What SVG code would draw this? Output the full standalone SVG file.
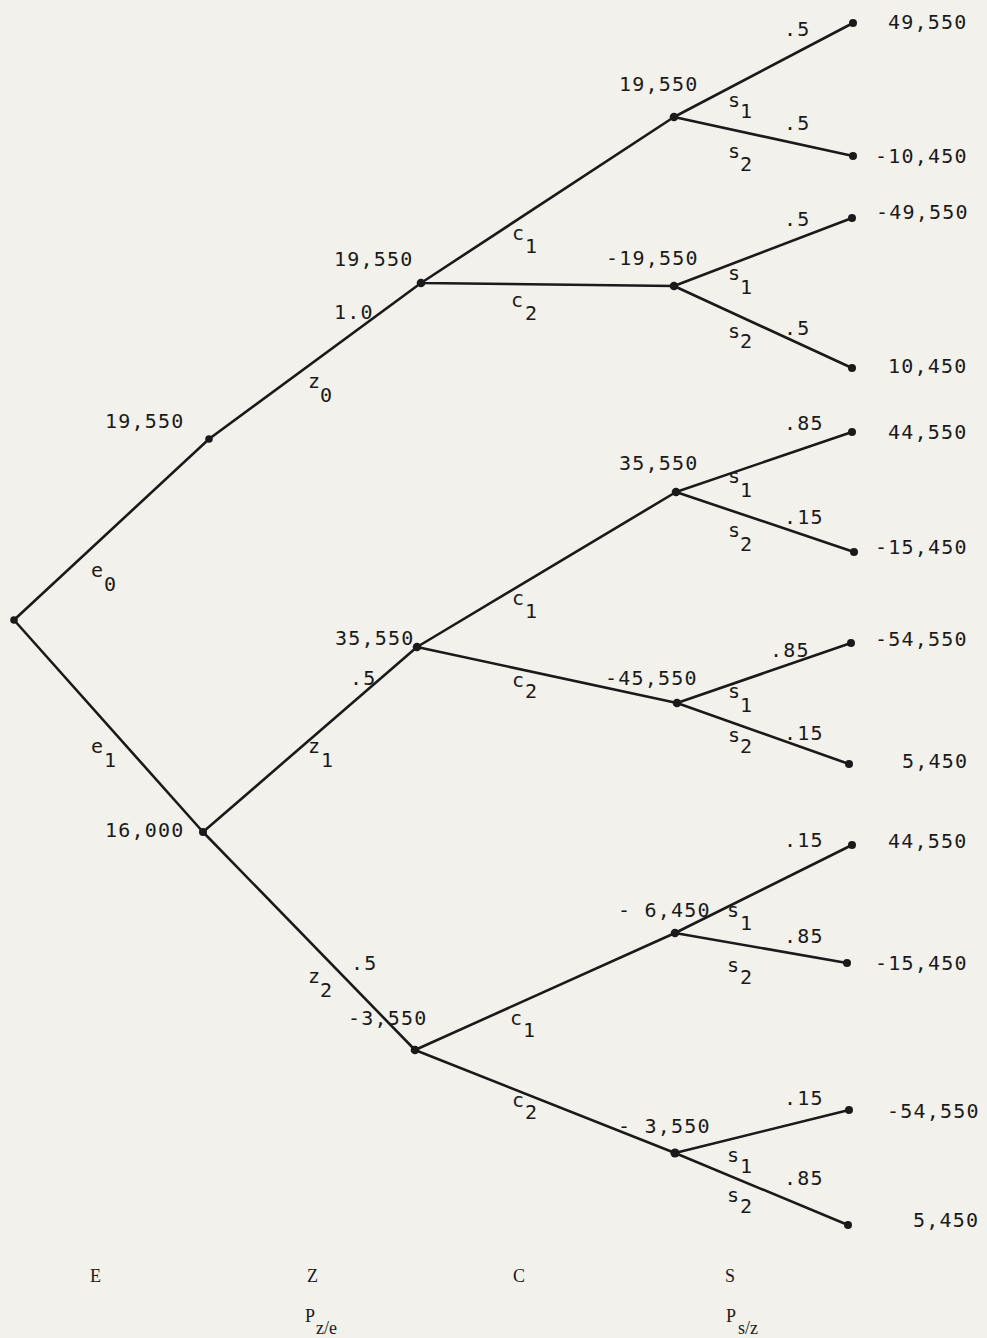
<svg xmlns="http://www.w3.org/2000/svg" width="987" height="1338" viewBox="0 0 987 1338">
<style>
.bg{fill:#f2f1ec}
.e{stroke:#1a1a1a;stroke-width:2.6;fill:none;stroke-linecap:round}
.n{fill:#1a1a1a}
.t{font-family:"DejaVu Sans Mono","Liberation Mono",monospace;font-size:20px;letter-spacing:1.2px;fill:#1a1a1a}
.s{font-family:"Liberation Serif","DejaVu Serif",serif;font-size:18px;fill:#1a1a1a}
</style>
<rect class="bg" x="0" y="0" width="987" height="1338"/>
<g id="connectors">
<path class="e" d="M14,620 L209,439 L421,283"/>
<path class="e" d="M14,620 L203,832"/>
<path class="e" d="M203,832 L417,647"/>
<path class="e" d="M203,832 L415,1050"/>
<path class="e" d="M421,283 L674,117 M421,283 L674,286"/>
<path class="e" d="M417,647 L676,492 M417,647 L677,703"/>
<path class="e" d="M415,1050 L675,933 M415,1050 L675,1153"/>
<path class="e" d="M674,117 L853,23 M674,117 L853,156"/>
<path class="e" d="M674,286 L852,218 M674,286 L852,368"/>
<path class="e" d="M676,492 L852,432 M676,492 L854,552"/>
<path class="e" d="M677,703 L851,643 M677,703 L849,764"/>
<path class="e" d="M675,933 L852,845 M675,933 L847,963"/>
<path class="e" d="M675,1153 L849,1110 M675,1153 L848,1225"/>
</g>
<g id="root"><circle class="n" cx="14" cy="620" r="3.8"/></g>
<g id="e0-node"><circle class="n" cx="209" cy="439" r="3.8"/><text class="t" x="105" y="428">19,550</text><text class="t"><tspan x="91" y="577">e</tspan><tspan x="104" y="591">0</tspan></text></g>
<g id="e1-node"><circle class="n" cx="203" cy="832" r="4"/><text class="t" x="105" y="837">16,000</text><text class="t"><tspan x="91" y="753">e</tspan><tspan x="104" y="767">1</tspan></text></g>
<g id="z0-node"><circle class="n" cx="421" cy="283" r="4.3"/><text class="t" x="334" y="266">19,550</text><text class="t" x="334" y="319">1.0</text><text class="t"><tspan x="308" y="388">z</tspan><tspan x="320" y="402">0</tspan></text><text class="t"><tspan x="512" y="240">c</tspan><tspan x="525" y="253">1</tspan></text><text class="t"><tspan x="511" y="307">c</tspan><tspan x="525" y="320">2</tspan></text></g>
<g id="z1-node"><circle class="n" cx="417" cy="647" r="4.3"/><text class="t" x="335" y="645">35,550</text><text class="t" x="350" y="685">.5</text><text class="t"><tspan x="308" y="753">z</tspan><tspan x="321" y="767">1</tspan></text><text class="t"><tspan x="512" y="605">c</tspan><tspan x="525" y="618">1</tspan></text><text class="t"><tspan x="512" y="687">c</tspan><tspan x="525" y="698">2</tspan></text></g>
<g id="z2-node"><circle class="n" cx="415" cy="1050" r="4.3"/><text class="t" x="348" y="1025">-3,550</text><text class="t" x="351" y="970">.5</text><text class="t"><tspan x="308" y="983">z</tspan><tspan x="320" y="997">2</tspan></text><text class="t"><tspan x="510" y="1025">c</tspan><tspan x="523" y="1037">1</tspan></text><text class="t"><tspan x="512" y="1107">c</tspan><tspan x="525" y="1119">2</tspan></text></g>
<g id="s-a"><circle class="n" cx="674" cy="117" r="4.3"/><text class="t" x="619" y="91">19,550</text><text class="t" x="784" y="36">.5</text><text class="t"><tspan x="728" y="107">s</tspan><tspan x="740" y="118">1</tspan></text><text class="t" x="784" y="130">.5</text><text class="t"><tspan x="728" y="158">s</tspan><tspan x="740" y="171">2</tspan></text></g>
<g id="s-b"><circle class="n" cx="674" cy="286" r="4.3"/><text class="t" x="606" y="265">-19,550</text><text class="t" x="784" y="226">.5</text><text class="t"><tspan x="728" y="280">s</tspan><tspan x="740" y="294">1</tspan></text><text class="t" x="784" y="335">.5</text><text class="t"><tspan x="728" y="338">s</tspan><tspan x="740" y="348">2</tspan></text></g>
<g id="s-c"><circle class="n" cx="676" cy="492" r="4.3"/><text class="t" x="619" y="470">35,550</text><text class="t" x="784" y="430">.85</text><text class="t"><tspan x="728" y="483">s</tspan><tspan x="740" y="497">1</tspan></text><text class="t" x="784" y="524">.15</text><text class="t"><tspan x="728" y="537">s</tspan><tspan x="740" y="551">2</tspan></text></g>
<g id="s-d"><circle class="n" cx="677" cy="703" r="4.3"/><text class="t" x="605" y="685">-45,550</text><text class="t" x="770" y="657">.85</text><text class="t"><tspan x="728" y="698">s</tspan><tspan x="740" y="712">1</tspan></text><text class="t" x="784" y="740">.15</text><text class="t"><tspan x="728" y="742">s</tspan><tspan x="740" y="753">2</tspan></text></g>
<g id="s-e"><circle class="n" cx="675" cy="933" r="4.3"/><text class="t" x="618" y="917">- 6,450</text><text class="t" x="784" y="847">.15</text><text class="t"><tspan x="727" y="917">s</tspan><tspan x="740" y="930">1</tspan></text><text class="t" x="784" y="943">.85</text><text class="t"><tspan x="727" y="972">s</tspan><tspan x="740" y="984">2</tspan></text></g>
<g id="s-f"><circle class="n" cx="675" cy="1153" r="4.6"/><text class="t" x="618" y="1133">- 3,550</text><text class="t" x="784" y="1105">.15</text><text class="t"><tspan x="727" y="1162">s</tspan><tspan x="740" y="1173">1</tspan></text><text class="t" x="784" y="1185">.85</text><text class="t"><tspan x="727" y="1202">s</tspan><tspan x="740" y="1213">2</tspan></text></g>
<g id="leaves">
<circle class="n" cx="853" cy="23" r="4"/><text class="t" x="888" y="29">49,550</text>
<circle class="n" cx="853" cy="156" r="4"/><text class="t" x="875" y="163">-10,450</text>
<circle class="n" cx="852" cy="218" r="4"/><text class="t" x="876" y="219">-49,550</text>
<circle class="n" cx="852" cy="368" r="4"/><text class="t" x="888" y="373">10,450</text>
<circle class="n" cx="852" cy="432" r="4"/><text class="t" x="888" y="439">44,550</text>
<circle class="n" cx="854" cy="552" r="4"/><text class="t" x="875" y="554">-15,450</text>
<circle class="n" cx="851" cy="643" r="4"/><text class="t" x="875" y="646">-54,550</text>
<circle class="n" cx="849" cy="764" r="4"/><text class="t" x="902" y="768">5,450</text>
<circle class="n" cx="852" cy="845" r="4"/><text class="t" x="888" y="848">44,550</text>
<circle class="n" cx="847" cy="963" r="4"/><text class="t" x="875" y="970">-15,450</text>
<circle class="n" cx="849" cy="1110" r="4"/><text class="t" x="887" y="1118">-54,550</text>
<circle class="n" cx="848" cy="1225" r="4"/><text class="t" x="913" y="1227">5,450</text>
</g>
<g id="axis-labels">
<text class="s" x="90" y="1282">E</text>
<text class="s" x="307" y="1282">Z</text>
<text class="s" x="513" y="1282">C</text>
<text class="s" x="725" y="1282">S</text>
<text class="s"><tspan x="305" y="1322">P</tspan><tspan x="316" y="1334">z/e</tspan></text>
<text class="s"><tspan x="726" y="1322">P</tspan><tspan x="738" y="1334">s/z</tspan></text>
</g>
</svg>
